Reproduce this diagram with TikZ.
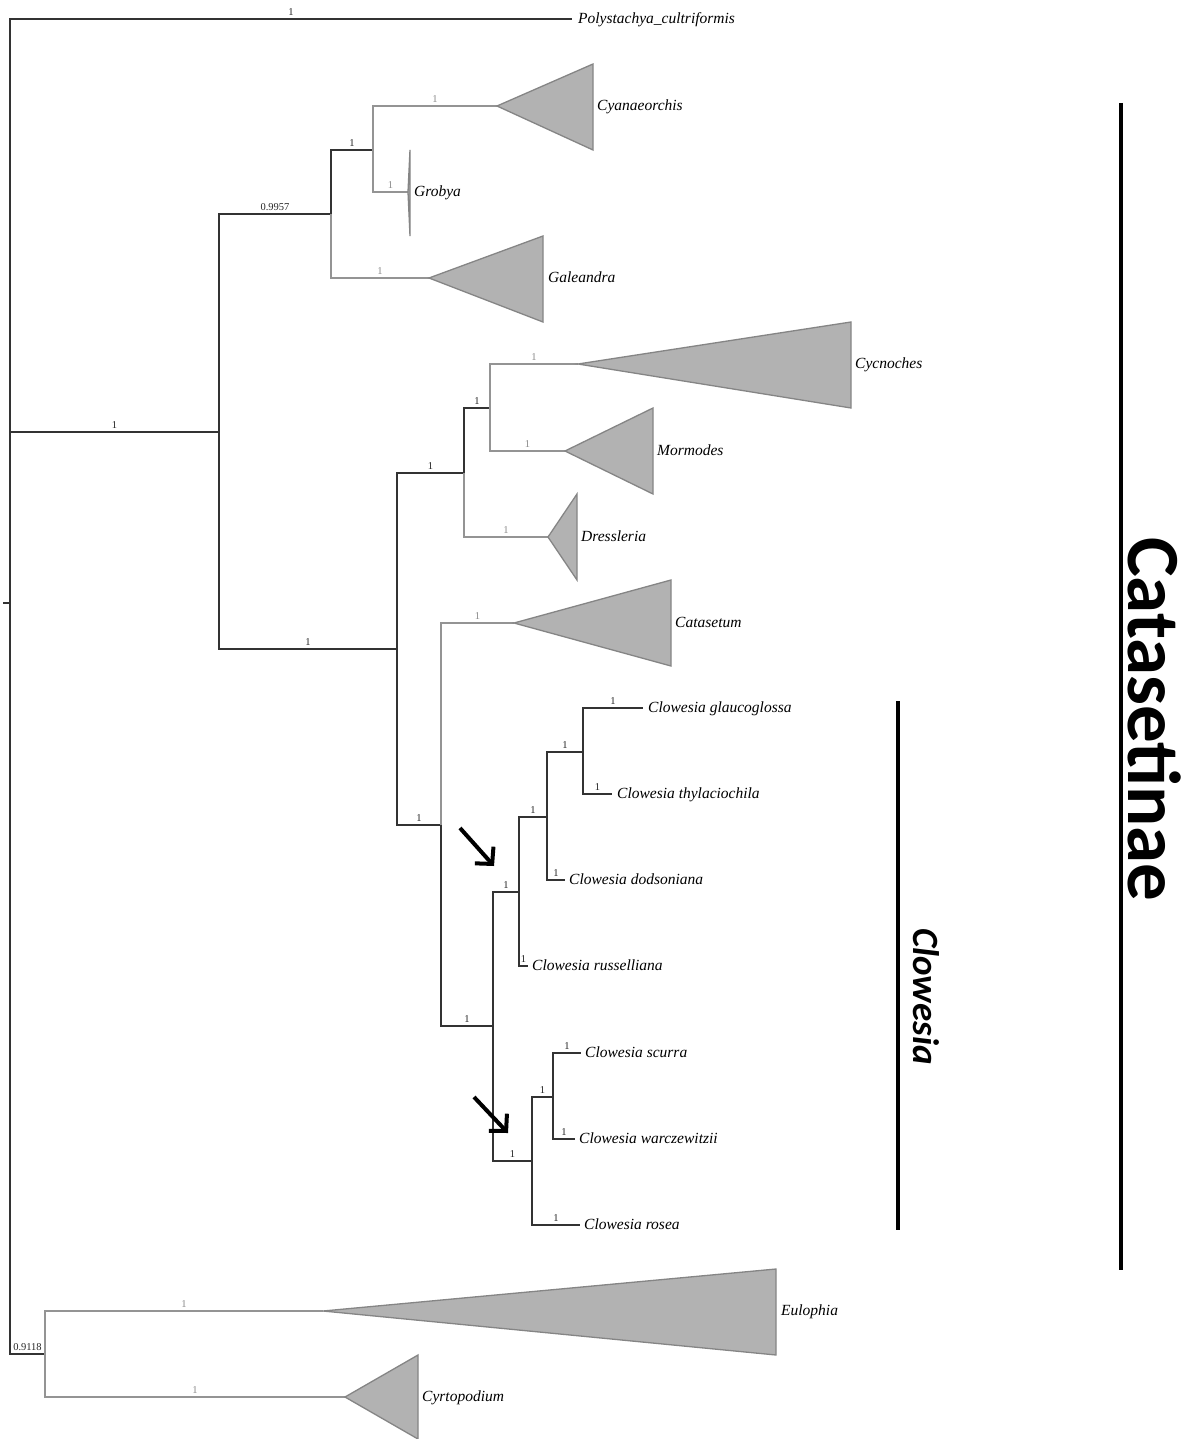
\documentclass[tikz,border=0pt]{standalone}
\usepackage{fontspec}
\setmainfont{Liberation Serif}
\newfontfamily\calib{Carlito}
\usetikzlibrary{arrows.meta}
\begin{document}
\begin{tikzpicture}[x=1pt,y=-1pt,
 dk/.style={draw=black!80, line width=1.6pt},
 gr/.style={draw=black!42, line width=1.6pt},
 tri/.style={fill=black!30, draw=black!48, line width=1.3pt, line join=miter},
 lbl/.style={font=\fontsize{10.5}{10.5}\selectfont, anchor=south, inner sep=0pt, yshift=2.5pt, text=black!85},
 lblg/.style={lbl, text=black!45},
 tx/.style={font=\itshape\fontsize{15.5}{16}\selectfont, anchor=mid west, inner sep=0pt, yshift=-2pt},
 bar/.style={draw=black, line width=4pt},
 arr/.style={draw=black, line width=4pt, -{Straight Barb[length=12pt,width=25pt]}}
]
\useasboundingbox[fill=white] (0,0) rectangle (1188,1439);

% internal nodes and tips
\coordinate (root) at (10,603);
\coordinate (stub) at (3,603);
\coordinate (polyT) at (572,19);
\coordinate (nA) at (219,432);
\coordinate (nB) at (331,214);
\coordinate (nC) at (373,150);
\coordinate (cyaT) at (497,106);
\coordinate (groT) at (408,192);
\coordinate (galT) at (429,278);
\coordinate (nD) at (397,649);
\coordinate (nE) at (464,473);
\coordinate (nF) at (490,408);
\coordinate (cycT) at (578,364);
\coordinate (morT) at (565,451);
\coordinate (dreT) at (548,537);
\coordinate (nG) at (441,825);
\coordinate (catT) at (514,623);
\coordinate (nH) at (493,1026);
\coordinate (nI) at (519,892);
\coordinate (nJ) at (547,817);
\coordinate (nK) at (583,752);
\coordinate (glaT) at (643,708);
\coordinate (thyT) at (612,794);
\coordinate (dodT) at (565,880);
\coordinate (rusT) at (528,966);
\coordinate (nL) at (532,1161);
\coordinate (nM) at (553,1097);
\coordinate (scuT) at (581,1053);
\coordinate (warT) at (575,1139);
\coordinate (rosT) at (580,1225);
\coordinate (nN) at (45,1354);
\coordinate (euT) at (323,1311);
\coordinate (cyrT) at (345,1397);

% branches
\draw[dk] (stub) -- (root);
\draw[dk] (root) |- node[lbl,pos=0.75]{1} (polyT);
\draw[dk] (root) |- node[lbl,pos=0.75]{1} (nA);
\draw[dk] (root) |- node[lbl,pos=0.75]{0.9118} (nN);
\draw[dk] (nA) |- node[lbl,pos=0.75]{0.9957} (nB);
\draw[dk] (nA) |- node[lbl,pos=0.75]{1} (nD);
\draw[dk] (nB) |- node[lbl,pos=0.75]{1} (nC);
\draw[gr] (nB) |- node[lblg,pos=0.75]{1} (galT);
\draw[gr] (nC) |- node[lblg,pos=0.75]{1} (cyaT);
\draw[gr] (nC) |- node[lblg,pos=0.75]{1} (groT);
\draw[dk] (nD) |- node[lbl,pos=0.75]{1} (nE);
\draw[dk] (nD) |- node[lbl,pos=0.75]{1} (nG);
\draw[dk] (nE) |- node[lbl,pos=0.75]{1} (nF);
\draw[gr] (nE) |- node[lblg,pos=0.75]{1} (dreT);
\draw[gr] (nF) |- node[lblg,pos=0.75]{1} (cycT);
\draw[gr] (nF) |- node[lblg,pos=0.75]{1} (morT);
\draw[gr] (nG) |- node[lblg,pos=0.75]{1} (catT);
\draw[dk] (nG) |- node[lbl,pos=0.75]{1} (nH);
\draw[dk] (nH) |- node[lbl,pos=0.75]{1} (nI);
\draw[dk] (nH) |- node[lbl,pos=0.75]{1} (nL);
\draw[dk] (nI) |- node[lbl,pos=0.75]{1} (nJ);
\draw[dk] (nI) |- node[lbl,pos=0.75]{1} (rusT);
\draw[dk] (nJ) |- node[lbl,pos=0.75]{1} (nK);
\draw[dk] (nJ) |- node[lbl,pos=0.75]{1} (dodT);
\draw[dk] (nK) |- node[lbl,pos=0.75]{1} (glaT);
\draw[dk] (nK) |- node[lbl,pos=0.75]{1} (thyT);
\draw[dk] (nL) |- node[lbl,pos=0.75]{1} (nM);
\draw[dk] (nL) |- node[lbl,pos=0.75]{1} (rosT);
\draw[dk] (nM) |- node[lbl,pos=0.75]{1} (scuT);
\draw[dk] (nM) |- node[lbl,pos=0.75]{1} (warT);
\draw[gr] (nN) |- node[lblg,pos=0.75]{1} (euT);
\draw[gr] (nN) |- node[lblg,pos=0.75]{1} (cyrT);

% collapsed clades
\draw[tri] (cyaT) -- (593,64) -- (593,150) -- cycle;
\draw[tri] (groT) -- (410,150) -- (410,236) -- cycle;
\draw[tri] (galT) -- (543,236) -- (543,322) -- cycle;
\draw[tri] (cycT) -- (851,322) -- (851,408) -- cycle;
\draw[tri] (morT) -- (653,408) -- (653,494) -- cycle;
\draw[tri] (dreT) -- (577,494) -- (577,580) -- cycle;
\draw[tri] (catT) -- (671,580) -- (671,666) -- cycle;
\draw[tri] (euT) -- (776,1269) -- (776,1355) -- cycle;
\draw[tri] (cyrT) -- (418,1355) -- (418,1439) -- cycle;

% tip labels
\node[tx] (tPoly) at (578,19) {Polystachya\_cultriformis};
\node[tx] (tCya) at (597,106) {Cyanaeorchis};
\node[tx] (tGro) at (414,192) {Grobya};
\node[tx] (tGal) at (548,278) {Galeandra};
\node[tx] (tCyc) at (855,364) {Cycnoches};
\node[tx] (tMor) at (657,451) {Mormodes};
\node[tx] (tDre) at (581,537) {Dressleria};
\node[tx] (tCat) at (675,623) {Catasetum};
\node[tx] (tGla) at (648,708) {Clowesia glaucoglossa};
\node[tx] (tThy) at (617,794) {Clowesia thylaciochila};
\node[tx] (tDod) at (569,880) {Clowesia dodsoniana};
\node[tx] (tRus) at (532,966) {Clowesia russelliana};
\node[tx] (tScu) at (585,1053) {Clowesia scurra};
\node[tx] (tWar) at (579,1139) {Clowesia warczewitzii};
\node[tx] (tRos) at (584,1225) {Clowesia rosea};
\node[tx] (tEu) at (781,1311) {Eulophia};
\node[tx] (tCyr) at (422,1397) {Cyrtopodium};

% arrows
\coordinate (a1s) at (460,828);
\coordinate (a1e) at (494,866);
\coordinate (a2s) at (474,1097);
\coordinate (a2e) at (508,1133);
\draw[arr] (a1s) -- (a1e);
\draw[arr] (a2s) -- (a2e);

% group bars
\coordinate (cbT) at (898,701);
\coordinate (cbB) at (898,1230);
\coordinate (kbT) at (1121,103);
\coordinate (kbB) at (1121,1270);
\draw[bar] (cbT) -- (cbB);
\draw[bar] (kbT) -- (kbB);
\node[rotate=-90, anchor=base west, inner sep=0pt, font=\calib\bfseries\itshape\fontsize{37}{37}\selectfont] (clow) at (913,928) {Clowesia};
\node[rotate=-90, anchor=base west, inner sep=0pt, font=\calib\bfseries\fontsize{75}{75}\selectfont] (cata) at (1128,537) {Catasetinae};
\end{tikzpicture}
\end{document}
